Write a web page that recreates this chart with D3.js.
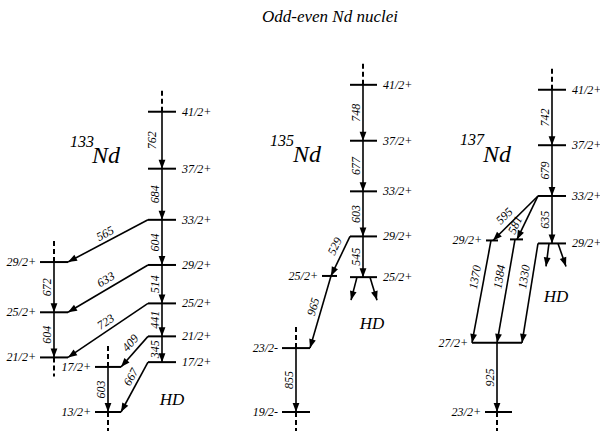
<!DOCTYPE html>
<html><head><meta charset="utf-8">
<script src="https://cdn.jsdelivr.net/npm/d3@7"></script>
</head><body style="margin:0">
<svg id="c" width="600" height="437"></svg>
<script>
// ---------------- DATA ----------------
const title = "Odd-even Nd nuclei";
const element = "Nd";
const isotopes = ["133", "135", "137"];
const hdLabel = "HD";

// levels: [id, spin, energy in keV relative to the lowest level drawn]
const levels133 = [
  ["L41","41/2+",4017],["L37","37/2+",3255],["L33","33/2+",2571],
  ["R29","29/2+",1967],["R25","25/2+",1453],["R21","21/2+",1012],["R17","17/2+",667],
  ["A29","29/2+",2006],["A25","25/2+",1334],["A21","21/2+",730],
  ["B17","17/2+",603],["B13","13/2+",0]
];
// gamma transitions: [from, to, energy label]
const gammas133 = [
  ["L41","L37","762"],["L37","L33","684"],["L33","R29","604"],["R29","R25","514"],
  ["R25","R21","441"],["R21","R17","345"],
  ["L33","A29","565"],["R29","A25","633"],["R25","A21","723"],
  ["A29","A25","672"],["A25","A21","604"],
  ["R21","B17","409"],["R17","B13","667"],["B17","B13","603"]
];

const levels135 = [
  ["M41","41/2+",4377],["M37","37/2+",3629],["M33","33/2+",2952],
  ["M29","29/2+",2349],["M25","25/2+",1804],
  ["S25","25/2+",1820],["N23","23/2-",855],["N19","19/2-",0]
];
const gammas135 = [
  ["M41","M37","748"],["M37","M33","677"],["M33","M29","603"],["M29","M25","545"],
  ["M29","S25","529"],["S25","N23","965"],["N23","N19","855"]
];

const levels137 = [
  ["P41","41/2+",4311],["P37","37/2+",3569],["P33","33/2+",2890],["P29","29/2+",2255],
  ["Q29a","29/2+",2295],["Q29b","",2309],["R27","27/2+",925],["S23","23/2+",0]
];
const gammas137 = [
  ["P41","P37","742"],["P37","P33","679"],["P33","P29","635"],
  ["P33","Q29a","595"],["P33","Q29b","581"],
  ["Q29a","R27","1370"],["Q29b","R27","1384"],["P29","R27","1330"],
  ["R27","S23","925"]
];

// ---------------- LAYOUT / STYLE ----------------
const layout = {
  "133": {
    levels: {L41:[148,176,"r"],L37:[148,176,"r"],L33:[148,176,"r"],R29:[148,176,"r"],
             R25:[148,176,"r"],R21:[148,176,"r"],R17:[148,176,"r"],
             A29:[40,68,"l"],A25:[40,68,"l"],A21:[40,68,"l"],
             B17:[95,121,"l"],B13:[95,121,"l"]},
    gammas: [[162,162,0.5,10],[162,162],[162,162],[162,162],[162,162],[162,162],
             [148,68,0.49,8],[148,68,0.47,9],[148,68,0.47,8.5],
             [54,54],[54,54],
             [148,121,0.41,9],[148,121,0.375,8],[108,108]],
    dashes: [["L41",162,-1],["A29",54,-1],["A21",54,1],["B17",108,-1],["B13",108,1]],
    decays: [],
    hd: [172,405],
    name: [70,147,92,163]
  },
  "135": {
    levels: {M41:[350,377,"r"],M37:[350,377,"r"],M33:[350,377,"r"],M29:[350,377,"r"],M25:[350,377,"r"],
             S25:[322,337,"l"],N23:[282,310,"l"],N19:[282,310,"l"]},
    gammas: [[363,363],[363,363],[363,363],[363,363],
             [350,331,0.35,9.5],[331,310,0.46,8.5],[296,296]],
    dashes: [["M41",363,-1],["N23",296,-1],["N19",296,1]],
    decays: [["M25",357,351],["M25",370,377]],
    hd: [372,329],
    name: [270,146,293,162]
  },
  "137": {
    levels: {P41:[538,566,"r"],P37:[538,566,"r"],P33:[538,566,"r"],P29:[538,566,"r"],
             Q29a:[486,498,"l"],Q29b:[510,523,"l"],R27:[472,522,"l"],S23:[485,512,"l"]},
    gammas: [[552,552],[552,552],[552,552],
             [538,493,0.6,9.5],[538,517,0.75,8],
             [491,472,0.375,9],[515,497,0.375,9],[538,522,0.35,8.5],
             [497,497]],
    dashes: [["P41",552,-1],["S23",497,1]],
    decays: [["P29",549,546],["P29",558,566]],
    hd: [556,302],
    name: [460,145,483,162]
  }
};
const dataSets = {"133":[levels133,gammas133],"135":[levels135,gammas135],"137":[levels137,gammas137]};

// ---------------- DRAW ----------------
const svg = d3.select("#c");
const y = d3.scaleLinear().domain([0, 4000]).range([412, 113]);
const x = d3.scaleLinear().domain([0, 600]).range([0, 600]);

function txt(sel, size) {
  return sel.append("text")
    .attr("font-family", "Tinos")
    .attr("font-style", "italic")
    .attr("font-size", size);
}

txt(svg, 17).attr("x", 330).attr("y", 22).attr("text-anchor", "middle").text(title);

function arrowHead(g, p1, p2, len = 9, hw = 3.4) {
  const dx = p2[0] - p1[0], dy = p2[1] - p1[1];
  const L = Math.hypot(dx, dy), ux = dx / L, uy = dy / L;
  const bx = p2[0] - len * ux, by = p2[1] - len * uy;
  g.append("path")
    .attr("d", `M${p2[0]},${p2[1]}L${bx - hw * uy},${by + hw * ux}L${bx + hw * uy},${by - hw * ux}Z`)
    .attr("fill", "#000");
}

isotopes.forEach(iso => {
  const [levels, gammas] = dataSets[iso];
  const L = layout[iso];
  const g = svg.append("g");
  const energy = new Map(levels.map(d => [d[0], d[2]]));

  L.dashes.forEach(([id, xx, dir]) => {
    const yy = y(energy.get(id));
    g.append("line").attr("x1", x(xx)).attr("x2", x(xx))
      .attr("y1", yy).attr("y2", yy + dir * (dir < 0 ? 22 : 19))
      .attr("stroke", "#000").attr("stroke-width", 2).attr("stroke-dasharray", "5,3");
  });

  levels.forEach(d => {
    const [x1, x2, side] = L.levels[d[0]];
    g.append("line").attr("x1", x(x1)).attr("x2", x(x2))
      .attr("y1", y(d[2])).attr("y2", y(d[2]))
      .attr("stroke", "#000").attr("stroke-width", 2);
    if (d[1] !== "") {
      txt(g, 12).attr("x", side === "r" ? x(x2) + 6 : x(x1) - 4)
        .attr("y", y(d[2]) + 4)
        .attr("text-anchor", side === "r" ? "start" : "end")
        .text(d[1]);
    }
  });

  gammas.forEach((d, i) => {
    const [x1, x2, t = 0.5, dd = 7] = L.gammas[i];
    const p1 = [x(x1), y(energy.get(d[0]))], p2 = [x(x2), y(energy.get(d[1]))];
    g.append("line").attr("x1", p1[0]).attr("y1", p1[1]).attr("x2", p2[0]).attr("y2", p2[1])
      .attr("stroke", "#000").attr("stroke-width", 1.6);
    arrowHead(g, p1, p2);
    const dx = p2[0] - p1[0], dy = p2[1] - p1[1], len = Math.hypot(dx, dy);
    const ux = dx / len, uy = dy / len;
    const nx = -uy, ny = ux;
    const px = p1[0] + t * dx + dd * nx, py = p1[1] + t * dy + dd * ny;
    const ang = Math.atan2(-dy, -dx) * 180 / Math.PI;
    txt(g, 12).attr("transform", `translate(${px},${py}) rotate(${ang})`)
      .attr("text-anchor", "middle").attr("y", 4)
      .text(d[2]);
  });

  L.decays.forEach(([id, xa, xb]) => {
    const p1 = [x(xa), y(energy.get(id))], p2 = [x(xb), y(energy.get(id)) + 23];
    g.append("line").attr("x1", p1[0]).attr("y1", p1[1]).attr("x2", p2[0]).attr("y2", p2[1])
      .attr("stroke", "#000").attr("stroke-width", 1.6);
    arrowHead(g, p1, p2);
  });

  txt(g, 17).attr("x", L.hd[0]).attr("y", L.hd[1]).attr("text-anchor", "middle").text(hdLabel);
  txt(g, 16).attr("x", L.name[0]).attr("y", L.name[1]).text(iso);
  txt(g, 24).attr("x", L.name[2]).attr("y", L.name[3]).text(element);
});
</script>
</body></html>
